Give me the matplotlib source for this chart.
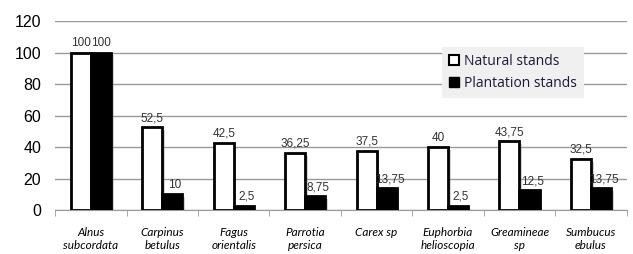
import numpy as np
import matplotlib
matplotlib.use('Agg')
import matplotlib.pyplot as plt
import matplotlib.patheffects as pe
from matplotlib.patches import Patch

species = ['Alnus\nsubcordata', 'Carpinus\nbetulus', 'Fagus\norientalis', 'Parrotia\npersica',
           'Carex sp', 'Euphorbia\nhelioscopia', 'Greamineae\nsp', 'Sumbucus\nebulus']
natural = [100, 52.5, 42.5, 36.25, 37.5, 40, 43.75, 32.5]
plantation = [100, 10, 2.5, 8.75, 13.75, 2.5, 12.5, 13.75]
yticks = [0, 20, 40, 60, 80, 100, 120]

fig = plt.figure(figsize=(6.33, 2.54), dpi=100)
ax = fig.add_axes([0.087, 0.173, 0.903, 0.744])

x = np.arange(len(species))
w = 0.28
shadow = [pe.SimplePatchShadow(offset=(2, -2), shadow_rgbFace='gray', alpha=0.35), pe.Normal()]
b1 = ax.bar(x - w / 2, natural, w, color='white', edgecolor='black', linewidth=2, zorder=3)
b2 = ax.bar(x + w / 2, plantation, w, color='black', edgecolor='black', linewidth=2, zorder=3)
for b in list(b1) + list(b2):
    b.set_path_effects(shadow)


def fmt(v):
    s = ('%g' % v).replace('.', ',')
    return s


for xi, v in zip(x, natural):
    ax.text(xi - w / 2, v + 2, fmt(v), ha='center', va='bottom', fontsize=8.5,
            family='Liberation Sans', color='#333333')
for xi, v in zip(x, plantation):
    ax.text(xi + w / 2 + (0.04 if v < 90 else 0), v + 2, fmt(v), ha='center', va='bottom', fontsize=8.5,
            family='Liberation Sans', color='#333333')

ax.set_xlim(-0.5, len(species) - 0.5)
ax.set_ylim(0, 120)
ax.set_yticks(yticks)
ax.yaxis.grid(True, color='#999999', linewidth=1)
ax.set_axisbelow(True)
for s in ['left', 'right', 'top']:
    ax.spines[s].set_visible(False)
ax.spines['bottom'].set_color('#999999')
ax.tick_params(axis='y', length=0, labelsize=11.5, pad=10)
for t in ax.get_yticklabels():
    t.set_family('Liberation Sans')

ax.set_xticks(np.arange(len(species) + 1) - 0.5, minor=True)
ax.set_xticks(x)
ax.set_xticklabels(species, fontsize=8.5, style='italic', family='Lato', linespacing=1.3)
ax.tick_params(axis='x', which='major', length=0, pad=12)
ax.tick_params(axis='x', which='minor', length=4, color='#999999')

handles = [Patch(facecolor='white', edgecolor='black', linewidth=1.5, label='Natural stands'),
           Patch(facecolor='black', edgecolor='black', label='Plantation stands')]
leg = ax.legend(handles=handles, loc='upper left', bbox_to_anchor=(0.665, 0.9), frameon=True,
                prop={'family': 'Open Sans', 'size': 10}, handlelength=0.7, handleheight=0.7,
                handletextpad=0.4, borderpad=0.5, labelspacing=0.5, fancybox=False)
leg.get_frame().set_facecolor('#f0f0f0')
leg.get_frame().set_edgecolor('none')
leg.get_frame().set_alpha(1)
for t in leg.get_texts():
    t.set_color('#1a1a3a')

fig.savefig('out.png', dpi=100)
